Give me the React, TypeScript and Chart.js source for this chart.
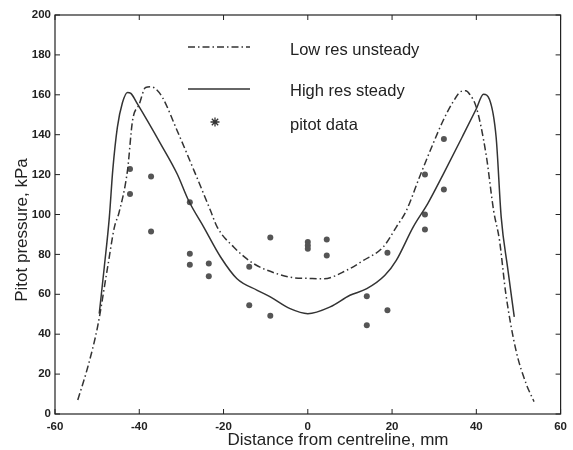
import React, { useEffect, useRef } from "react";
import { Chart, registerables } from "chart.js";

Chart.register(...registerables);

const xTicks = [-60, -40, -20, 0, 20, 40, 60];
const yTicks = [0, 20, 40, 60, 80, 100, 120, 140, 160, 180, 200];

const lowResX = [-54.6, -52.2, -49.9, -47.5, -45.9, -44.8, -42.8, -41.6, -40, -38.5, -37.2, -36.1, -34.5, -31, -27, -23.1, -21.5, -17.6, -12.8, -7.3, -3.4, 0, 3.7, 9.2, 13.2, 17.9, 21, 23.4, 26.5, 29.7, 32.1, 34.4, 36.4, 37.5, 38.4, 40, 42.3, 44.1, 45.5, 47, 49.4, 51.8, 53.7];
const lowResY = [7, 23.7, 43.7, 73.7, 93.7, 101, 122, 147, 155.3, 163.7, 164, 163, 158.7, 142, 122, 102, 93.7, 83.7, 75.3, 70.3, 68.3, 68, 67.8, 72, 77, 83.7, 93.7, 102, 118.7, 135.3, 147, 156.2, 161.7, 162, 160.3, 153.7, 130.3, 102, 87, 60.3, 32, 15.3, 6.2];

const highResX = [-49.5, -48.3, -47.1, -46.3, -45.2, -44, -42.8, -42, -40.4, -34.9, -31, -28.3, -24.7, -20.7, -16.8, -12, -8.9, -4.2, 0, 5.3, 10, 14, 18.3, 21, 25, 28.5, 32.1, 36.8, 40, 41.7, 43.1, 44.7, 45.9, 47.4, 49];
const highResY = [50.3, 73.7, 98.7, 122, 143.7, 156, 161.2, 160.7, 155.3, 135.3, 120.3, 107, 93.7, 78.7, 67.8, 62, 58.7, 52.8, 50.3, 53.7, 59.5, 62.8, 69.5, 77, 93.7, 105.6, 120, 139.5, 153, 160.3, 157.8, 138.7, 98.7, 73.7, 48.7];

const pitotX = [-42.2, -42.2, -37.2, -37.2, -28, -28, -28, -23.5, -23.5, -13.9, -13.9, -8.9, -8.9, 0, 0, 0, 4.5, 4.5, 14, 14, 18.9, 18.9, 27.8, 27.8, 27.8, 32.3, 32.3];
const pitotY = [122.8, 110.3, 119, 91.5, 106.2, 80.3, 74.8, 75.5, 69, 73.8, 54.5, 88.5, 49.2, 86.2, 84.5, 82.8, 87.5, 79.5, 59, 44.5, 80.8, 52, 120, 100, 92.5, 137.8, 112.5];

const legendLabels = ["Low res unsteady", "High res steady", "pitot data"];
const xTitle = "Distance from centreline, mm";
const yTitle = "Pitot pressure, kPa";

const FONT = "'Liberation Sans', Arial, Helvetica, sans-serif";
const INK = "#222";
const LINE = "#333";
const LOW_DASH = [7, 3, 1.5, 3];

const zip = (xs: number[], ys: number[]) => xs.map((x, i) => ({ x, y: ys[i] }));

const framePlugin = {
  id: "frame",
  afterDraw(chart: any) {
    const { ctx, chartArea: a, scales } = chart;
    const xs = scales.x;
    const ys = scales.y;
    ctx.save();
    ctx.strokeStyle = INK;
    ctx.lineWidth = 1.2;
    ctx.strokeRect(a.left, a.top, a.right - a.left, a.bottom - a.top);
    ctx.lineWidth = 1;
    const L = 5;
    xTicks.forEach((v) => {
      const px = xs.getPixelForValue(v);
      ctx.beginPath();
      ctx.moveTo(px, a.bottom);
      ctx.lineTo(px, a.bottom - L);
      ctx.moveTo(px, a.top);
      ctx.lineTo(px, a.top + L);
      ctx.stroke();
    });
    yTicks.forEach((v) => {
      const py = ys.getPixelForValue(v);
      ctx.beginPath();
      ctx.moveTo(a.left, py);
      ctx.lineTo(a.left + L, py);
      ctx.moveTo(a.right, py);
      ctx.lineTo(a.right - L, py);
      ctx.stroke();
    });

    // axis titles
    ctx.fillStyle = INK;
    ctx.font = `17px ${FONT}`;
    ctx.textAlign = "center";
    ctx.textBaseline = "middle";
    ctx.fillText(xTitle, 338, 440);
    ctx.save();
    ctx.translate(22, 230);
    ctx.rotate(-Math.PI / 2);
    ctx.fillText(yTitle, 0, 0);
    ctx.restore();

    // legend
    const lx0 = 188, lx1 = 250, tx = 290;
    const rows = [47, 89, 122];
    const trows = [50, 91, 125];
    ctx.strokeStyle = LINE;
    ctx.lineWidth = 1.5;
    ctx.setLineDash(LOW_DASH);
    ctx.beginPath();
    ctx.moveTo(lx0, rows[0]);
    ctx.lineTo(lx1, rows[0]);
    ctx.stroke();
    ctx.setLineDash([]);
    ctx.beginPath();
    ctx.moveTo(lx0, rows[1]);
    ctx.lineTo(lx1, rows[1]);
    ctx.stroke();
    // asterisk
    const cx = 215, cy = rows[2], r = 4.5;
    ctx.lineWidth = 1.3;
    ctx.beginPath();
    for (let k = 0; k < 4; k++) {
      const ang = (k * Math.PI) / 4;
      ctx.moveTo(cx - r * Math.cos(ang), cy - r * Math.sin(ang));
      ctx.lineTo(cx + r * Math.cos(ang), cy + r * Math.sin(ang));
    }
    ctx.stroke();
    ctx.font = `16.5px ${FONT}`;
    ctx.textAlign = "left";
    legendLabels.forEach((t, i) => ctx.fillText(t, tx, trows[i]));
    ctx.restore();
  },
};

export default function App() {
  const ref = useRef<HTMLCanvasElement | null>(null);
  useEffect(() => {
    if (!ref.current) return;
    const chart = new Chart(ref.current, {
      type: "scatter",
      data: {
        datasets: [
          {
            label: legendLabels[0],
            data: zip(lowResX, lowResY),
            showLine: true,
            borderColor: LINE,
            borderWidth: 1.5,
            borderDash: LOW_DASH,
            pointRadius: 0,
            cubicInterpolationMode: "monotone",
            fill: false,
          } as any,
          {
            label: legendLabels[1],
            data: zip(highResX, highResY),
            showLine: true,
            borderColor: LINE,
            borderWidth: 1.5,
            pointRadius: 0,
            cubicInterpolationMode: "monotone",
            fill: false,
          } as any,
          {
            label: legendLabels[2],
            data: zip(pitotX, pitotY),
            showLine: false,
            pointRadius: 3,
            pointBackgroundColor: "#555",
            pointBorderColor: "#555",
            pointBorderWidth: 0,
          } as any,
        ],
      },
      options: {
        responsive: false,
        animation: false,
        events: [],
        layout: { padding: { top: 15, right: 10, left: 0, bottom: 0 } },
        plugins: {
          legend: { display: false },
          tooltip: { enabled: false },
          title: { display: false },
        },
        scales: {
          x: {
            type: "linear",
            min: -60,
            max: 60,
            afterFit: (s: any) => {
              s.height = 36;
            },
            afterBuildTicks: (s: any) => {
              s.ticks = xTicks.map((v) => ({ value: v }));
            },
            grid: { display: false, drawTicks: false },
            border: { display: false },
            ticks: {
              padding: 6,
              color: INK,
              font: { family: FONT, size: 11.5, weight: "bold" },
              maxRotation: 0,
            },
          },
          y: {
            type: "linear",
            min: 0,
            max: 200,
            afterFit: (s: any) => {
              s.width = 55;
            },
            afterBuildTicks: (s: any) => {
              s.ticks = yTicks.map((v) => ({ value: v }));
            },
            grid: { display: false, drawTicks: false },
            border: { display: false },
            ticks: {
              padding: 4,
              color: INK,
              font: { family: FONT, size: 11.5, weight: "bold" },
            },
          },
        },
      },
      plugins: [framePlugin],
    });
    return () => chart.destroy();
  }, []);
  return (
    <div style={{ position: "absolute", left: 0, top: 0, width: 573, height: 450, background: "#fff" }}>
      <canvas ref={ref} width={573} height={450} style={{ display: "block" }} />
    </div>
  );
}
